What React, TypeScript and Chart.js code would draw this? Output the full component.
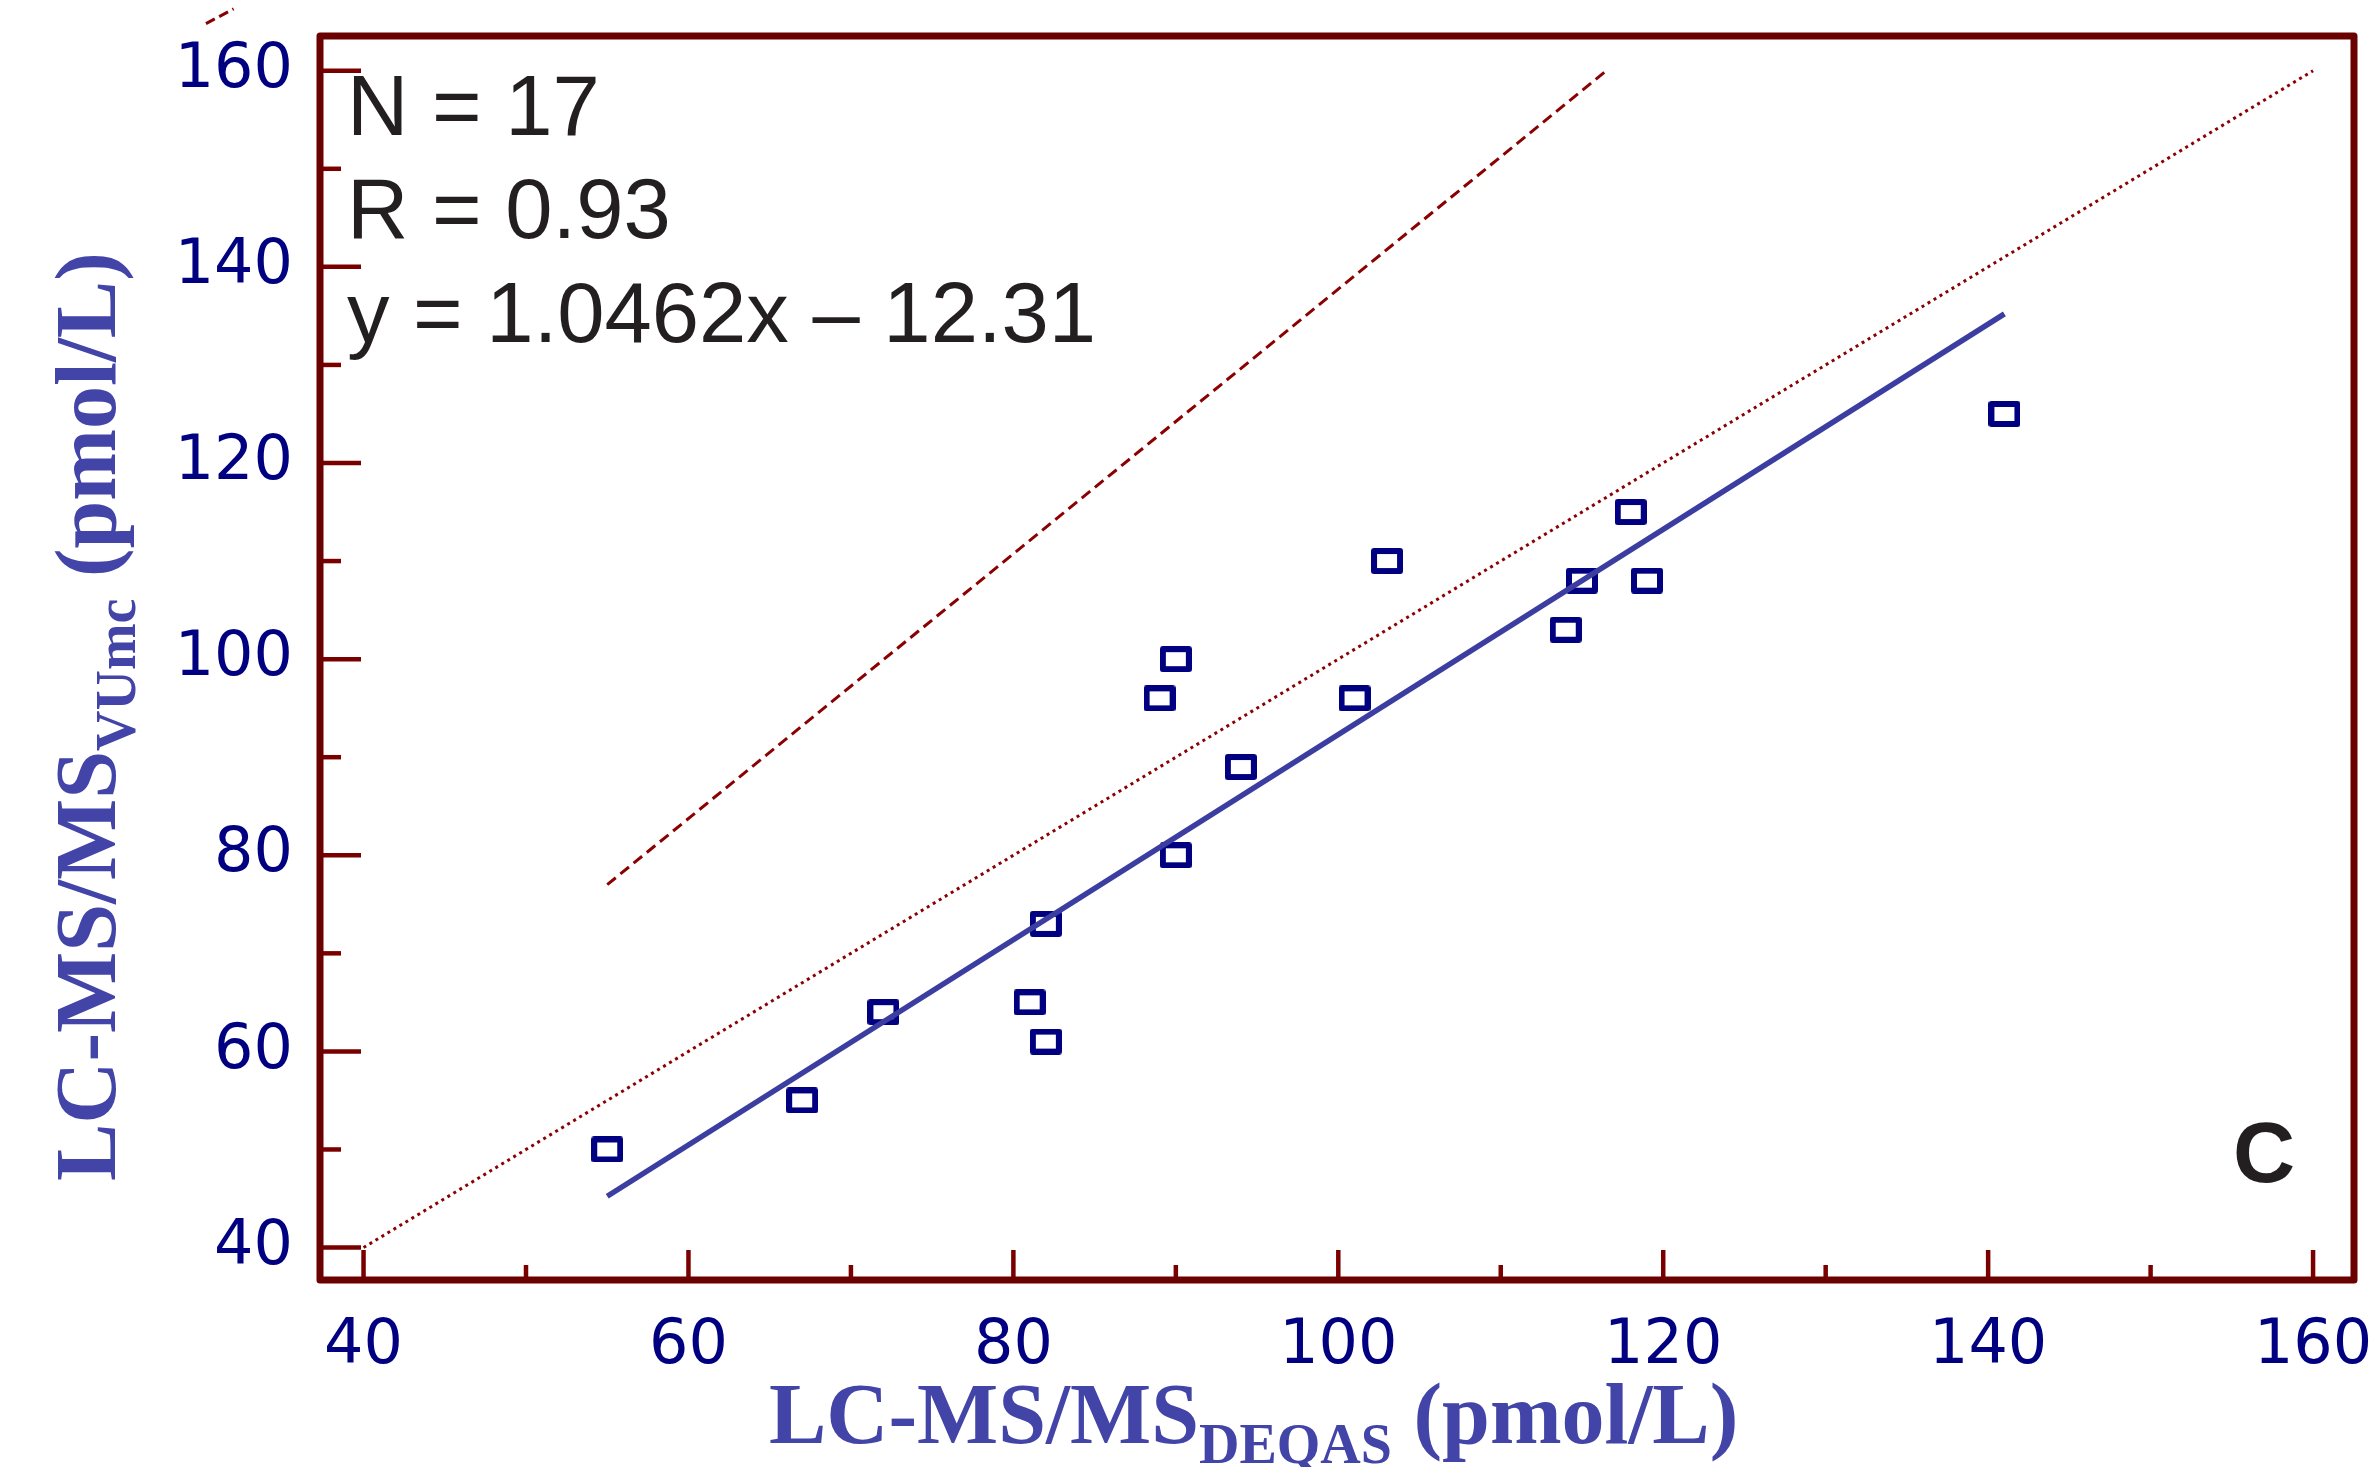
import React, { useEffect, useRef } from "react";
import { Chart, registerables } from "chart.js";

Chart.register(...registerables);

// ---- data ----
const xValues = [55, 67, 72, 81, 82, 82, 89, 90, 90, 94, 101, 103, 114, 115, 118, 119, 141];
const yValues = [50, 55, 64, 65, 61, 73, 96, 100, 80, 89, 96, 110, 103, 108, 115, 108, 125];

const regressionX = [55, 141];
const regressionY = [45.23, 135.2];

const identityX = [40, 160];
const identityY = [40, 160];

const dashedX = [55, 116.5];
const dashedY = [77, 160];

const fragmentX = [30.3, 32.0];
const fragmentY = [164.8, 166.3];

const xMajorTicks = [40, 60, 80, 100, 120, 140, 160];
const xMinorTicks = [50, 70, 90, 110, 130, 150];
const yMajorTicks = [40, 60, 80, 100, 120, 140, 160];
const yMinorTicks = [50, 70, 90, 110, 130, 150];

const statLines = ["N = 17", "R = 0.93", "y = 1.0462x \u2013 12.31"];
const panelLabel = "C";

const xTitleMain = "LC-MS/MS";
const xTitleSub = "DEQAS";
const yTitleMain = "LC-MS/MS";
const yTitleSub = "VUmc";
const titleUnit = " (pmol/L)";

// ---- styles ----
const FRAME_COLOR = "#6b0000";
const TICK_COLOR = "#7a0000";
const LABEL_COLOR = "#000080";
const TITLE_COLOR = "#4244a8";
const TEXT_COLOR = "#231f20";
const REG_COLOR = "#3b3ea0";
const MARKER_COLOR = "#000080";

const W = 2377;
const H = 1467;

const toPts = (xs: number[], ys: number[]) => xs.map((x, i) => ({ x, y: ys[i] }));

const decorPlugin = {
  id: "decor",
  afterDraw(chart: any) {
    const { ctx, chartArea: a, scales } = chart;
    const xs = scales.x;
    const ys = scales.y;
    ctx.save();
    // inward ticks
    ctx.strokeStyle = TICK_COLOR;
    ctx.lineCap = "butt";
    ctx.lineWidth = 4.5;
    const seg = (x1: number, y1: number, x2: number, y2: number) => {
      ctx.beginPath();
      ctx.moveTo(x1, y1);
      ctx.lineTo(x2, y2);
      ctx.stroke();
    };
    xMajorTicks.forEach((v) => {
      const p = xs.getPixelForValue(v);
      seg(p, a.bottom, p, a.bottom - 30);
    });
    xMinorTicks.forEach((v) => {
      const p = xs.getPixelForValue(v);
      seg(p, a.bottom, p, a.bottom - 15);
    });
    yMajorTicks.forEach((v) => {
      const p = ys.getPixelForValue(v);
      seg(a.left, p, a.left + 41, p);
    });
    yMinorTicks.forEach((v) => {
      const p = ys.getPixelForValue(v);
      seg(a.left, p, a.left + 21, p);
    });
    // frame
    ctx.strokeStyle = FRAME_COLOR;
    ctx.lineWidth = 7;
    ctx.lineJoin = "round";
    ctx.strokeRect(a.left, a.top, a.right - a.left, a.bottom - a.top);

    // stats text
    ctx.fillStyle = TEXT_COLOR;
    ctx.textAlign = "left";
    ctx.textBaseline = "alphabetic";
    ctx.font = "85px 'Liberation Sans', Arial, sans-serif";
    const baseY = [a.top + 99, a.top + 202, a.top + 306];
    statLines.forEach((s, i) => ctx.fillText(s, a.left + 27, baseY[i]));

    ctx.font = "bold 86px 'Liberation Sans', Arial, sans-serif";
    ctx.fillText(panelLabel, a.right - 121, a.bottom - 98);

    // axis titles
    ctx.fillStyle = TITLE_COLOR;
    const mainFont = "bold 86px 'Liberation Serif', 'Times New Roman', serif";
    const subFont = "bold 56px 'Liberation Serif', 'Times New Roman', serif";
    const drawTitle = (main: string, sub: string) => {
      let x = 0;
      ctx.font = mainFont;
      ctx.fillText(main, x, 0);
      x += ctx.measureText(main).width;
      ctx.font = subFont;
      ctx.fillText(sub, x, 20);
      x += ctx.measureText(sub).width;
      ctx.font = mainFont;
      ctx.fillText(titleUnit, x, 0);
    };
    ctx.save();
    ctx.translate(a.left + 449, a.bottom + 163);
    drawTitle(xTitleMain, xTitleSub);
    ctx.restore();

    ctx.save();
    ctx.translate(115, a.bottom - 99);
    ctx.rotate(-Math.PI / 2);
    drawTitle(yTitleMain, yTitleSub);
    ctx.restore();

    ctx.restore();
  },
};

export default function App() {
  const ref = useRef<HTMLCanvasElement | null>(null);

  useEffect(() => {
    if (!ref.current) return;
    const marker = document.createElement("canvas");
    marker.width = 32;
    marker.height = 26;
    const mctx = marker.getContext("2d")!;
    mctx.strokeStyle = MARKER_COLOR;
    mctx.lineWidth = 6;
    mctx.lineJoin = "round";
    mctx.strokeRect(3, 3, 26, 20);

    const chart = new Chart(ref.current, {
      type: "scatter",
      data: {
        datasets: [
          {
            label: "fragment",
            data: toPts(fragmentX, fragmentY),
            showLine: true,
            borderColor: "#8b0000",
            borderWidth: 3,
            borderDash: [10, 5],
            pointRadius: 0,
            clip: false as any,
          },
          {
            label: "regression",
            data: toPts(regressionX, regressionY),
            showLine: true,
            borderColor: REG_COLOR,
            borderWidth: 5.5,
            pointRadius: 0,
          },
          {
            label: "identity",
            data: toPts(identityX, identityY),
            showLine: true,
            borderColor: "#8b0000",
            borderWidth: 3,
            borderDash: [3, 4],
            pointRadius: 0,
          },
          {
            label: "limit",
            data: toPts(dashedX, dashedY),
            showLine: true,
            borderColor: "#8b0000",
            borderWidth: 3,
            borderDash: [11, 6],
            pointRadius: 0,
          },
          {
            label: "samples",
            data: toPts(xValues, yValues),
            showLine: false,
            pointStyle: marker as any,
            pointRadius: 13,
            pointHoverRadius: 13,
          },
        ],
      },
      options: {
        animation: false,
        responsive: false,
        devicePixelRatio: 1,
        events: [],
        layout: { padding: { top: 36, right: 23, left: 0, bottom: 0 } },
        plugins: {
          legend: { display: false },
          tooltip: { enabled: false },
        },
        scales: {
          x: {
            type: "linear",
            min: 37.32,
            max: 162.52,
            grid: { display: false, drawTicks: false },
            border: { display: false },
            afterBuildTicks: (s: any) => {
              s.ticks = xMajorTicks.map((v) => ({ value: v }));
            },
            afterFit: (s: any) => {
              s.height = H - 1280;
              s.paddingLeft = 0;
              s.paddingRight = 0;
              s.paddingTop = 0;
              s.paddingBottom = 0;
            },
            ticks: {
              color: LABEL_COLOR,
              padding: 30,
              maxRotation: 0,
              font: { family: "'DejaVu Sans', Verdana, sans-serif", size: 62 },
            },
          },
          y: {
            type: "linear",
            min: 36.69,
            max: 163.54,
            grid: { display: false, drawTicks: false },
            border: { display: false },
            afterBuildTicks: (s: any) => {
              s.ticks = yMajorTicks.map((v) => ({ value: v }));
            },
            afterFit: (s: any) => {
              s.width = 320;
              s.paddingLeft = 0;
              s.paddingRight = 0;
              s.paddingTop = 0;
              s.paddingBottom = 0;
            },
            ticks: {
              color: LABEL_COLOR,
              padding: 27,
              font: { family: "'DejaVu Sans', Verdana, sans-serif", size: 62 },
            },
          },
        },
      },
      plugins: [decorPlugin],
    });
    return () => chart.destroy();
  }, []);

  return (
    <div style={{ position: "absolute", left: 0, top: 0, width: W, height: H, background: "#fff" }}>
      <canvas ref={ref} width={W} height={H} style={{ display: "block", width: W, height: H }} />
    </div>
  );
}
